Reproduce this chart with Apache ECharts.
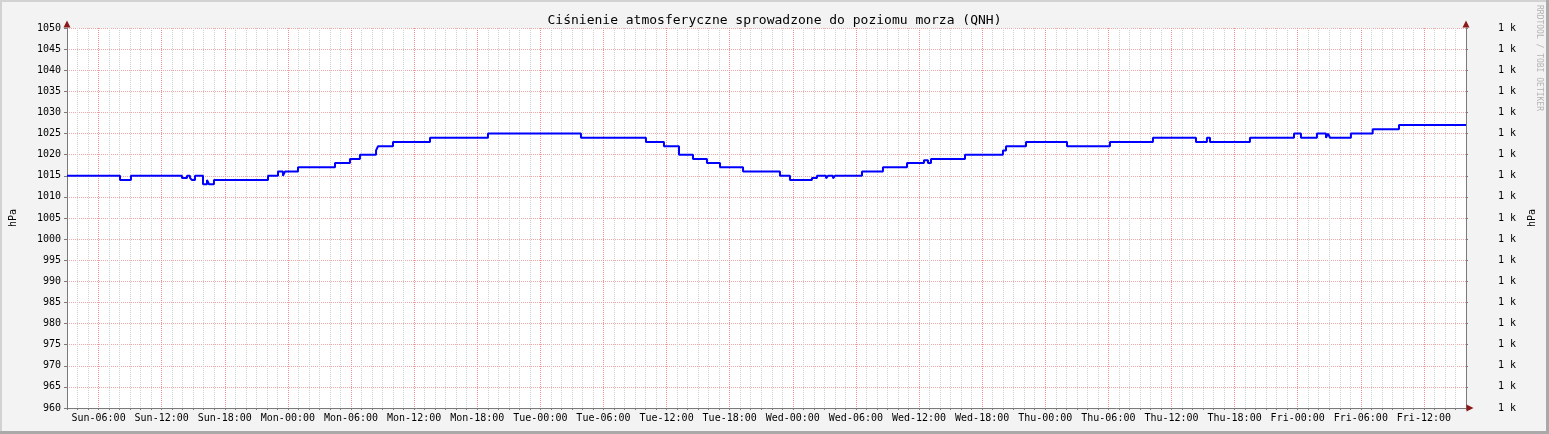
<!DOCTYPE html>
<html>
<head>
<meta charset="utf-8">
<script src="https://cdn.jsdelivr.net/npm/echarts@6/dist/echarts.min.js"></script>
<style>
  html, body { margin: 0; padding: 0; background: #f3f3f3; }
  #wrap { position: relative; width: 1549px; height: 434px; overflow: hidden; background: #f3f3f3; }
  #chart { position: absolute; left: 0; top: 0; width: 1549px; height: 434px; }
  .b { position: absolute; }
</style>
</head>
<body>
<div id="wrap">
  <div class="b" style="left:0;top:0;width:1549px;height:2px;background:#d2d2d2"></div>
  <div class="b" style="left:0;top:0;width:2px;height:434px;background:#d2d2d2"></div>
  <div class="b" style="left:0;top:431px;width:1549px;height:3px;background:#a9a9a9"></div>
  <div class="b" style="left:1546px;top:0;width:3px;height:434px;background:#a9a9a9"></div>
  <div id="chart"></div>
</div>
<script>
// ---- data (hours counted from Sunday 00:00) ----
const dayNames = ['Sun', 'Mon', 'Tue', 'Wed', 'Thu', 'Fri', 'Sat'];
const timeMin = 3;
const timeMax = 136;
const majorStep = 6;
const majorFirst = 6;
const majorLast = 132;
const hours = [3, 8.04, 9.08, 13.93, 14.41, 14.69, 14.88, 15.17, 15.93, 16.31, 16.50, 16.97,
  22.11, 23.06, 23.53, 23.72, 24.96, 28.48, 29.90, 30.85, 32.38, 32.57, 33.99, 37.51,
  43.02, 51.86, 58.04, 59.75, 61.18, 62.51, 63.84, 65.08, 67.27, 70.78, 71.73, 73.82,
  74.30, 75.16, 75.35, 75.82, 76.01, 78.58, 80.57, 82.86, 84.47, 84.85, 85.14, 88.37,
  91.98, 92.27, 94.17, 98.07, 102.15, 106.24, 110.33, 111.37, 111.66, 115.46, 119.65,
  120.31, 121.83, 122.69, 122.88, 123.07, 125.06, 127.13, 129.63, 136];
const qnh = [1015, 1014, 1015, 1014.5, 1015, 1014.5, 1014, 1015, 1013, 1014, 1013, 1014,
  1015, 1016, 1015, 1016, 1017, 1018, 1019, 1020, 1021, 1022, 1023, 1024,
  1025, 1024, 1023, 1022, 1020, 1019, 1018, 1017, 1016, 1015, 1014, 1014.5,
  1015, 1014.4, 1015, 1014.4, 1015, 1016, 1017, 1018, 1018.7, 1018, 1019, 1020,
  1021, 1022, 1023, 1022, 1023, 1024, 1023, 1024, 1023, 1024, 1025,
  1024, 1025, 1024, 1025, 1024, 1025, 1026, 1027, 1027];
const yMin = 960, yMax = 1050, yStep = 5;
const rightLabel = '1 k';
const titleText = 'Ciśnienie atmosferyczne sprowadzone do poziomu morza (QNH)';
const unitName = 'hPa';
const watermark = 'RRDTOOL / TOBI OETIKER';

const FONT = 'DejaVu Sans Mono';
const GRAY = '#d0d0d0', PINK = '#ee8e8e', HPINK = '#f0a8a8', AXIS = '#7a7a7a', ARROW = '#8a1a1a';
const pad2 = n => (n < 10 ? '0' : '') + n;

// layout of the plot area
const W = 1549, H = 434;
const PL = 67, PR = 83, PT = 28, PB = 26;
const plotW = W - PL - PR;
// second grid spanning exactly the major-grid time range, so its ticks start on a 6h mark
const pxPerHour = plotW / (timeMax - timeMin);
const majorLeft = PL + (majorFirst - timeMin) * pxPerHour;
const majorRight = PR + (timeMax - majorLast) * pxPerHour;

const arrowAxis = {
  show: true, onZero: false, symbol: ['none', 'triangle'], symbolSize: [7, 7], symbolOffset: [0, 4],
  lineStyle: { color: ARROW, width: 0 }
};

const chart = echarts.init(document.getElementById('chart'), null, { renderer: 'canvas' });
chart.setOption({
  animation: false,
  backgroundColor: 'transparent',
  title: {
    text: titleText, left: 'center', top: 9,
    textStyle: { fontFamily: FONT, fontSize: 13, fontWeight: 'normal', color: '#000' }
  },
  graphic: [{
    type: 'text', right: 6, top: 5, rotation: -Math.PI / 2,
    style: { text: watermark, fontFamily: FONT, fontSize: 8, fill: '#b4b4b4' }
  }],
  grid: [{
    left: PL, right: PR, top: PT, bottom: PB, containLabel: false, outerBoundsMode: 'none',
    show: true, backgroundColor: '#fff', borderWidth: 0
  }, {
    left: majorLeft, right: majorRight, top: PT, bottom: PB, containLabel: false, outerBoundsMode: 'none',
    show: false
  }],
  xAxis: [{
    gridIndex: 0, type: 'value', min: timeMin, max: timeMax, interval: 1,
    axisLine: { show: true, onZero: false, lineStyle: { color: AXIS, width: 1 } },
    axisTick: { show: true, length: 2, inside: false, lineStyle: { color: AXIS } },
    axisLabel: {
      margin: 5, fontFamily: FONT, fontSize: 10, color: '#000',
      formatter: v => {
        const r = Math.round(v);
        if (Math.abs(v - r) > 1e-6 || r % majorStep !== 0) return '';
        return dayNames[Math.floor(r / 24)] + '-' + pad2(r % 24) + ':00';
      }
    },
    splitLine: { show: true, lineStyle: { type: [1, 1], width: 1, color: GRAY } }
  }, {
    gridIndex: 0, type: 'value', min: timeMin, max: timeMax, position: 'bottom',
    axisLine: arrowAxis,
    axisTick: { show: false }, axisLabel: { show: false }, splitLine: { show: false }
  }, {
    gridIndex: 1, type: 'value', min: majorFirst, max: majorLast, interval: majorStep, position: 'bottom',
    axisLine: { show: false }, axisTick: { show: false }, axisLabel: { show: false },
    splitLine: { show: true, lineStyle: { type: [1, 1], width: 1, color: PINK } }
  }],
  yAxis: [{
    gridIndex: 0, type: 'value', min: yMin, max: yMax, interval: yStep, position: 'left',
    name: unitName, nameLocation: 'middle', nameGap: 49, nameRotate: 90,
    nameTextStyle: { fontFamily: FONT, fontSize: 10, color: '#000' },
    axisLine: { show: true, lineStyle: { color: AXIS, width: 1 } },
    axisTick: { show: true, length: 3, lineStyle: { color: AXIS } },
    axisLabel: { margin: 6, fontFamily: FONT, fontSize: 10, color: '#000', formatter: v => String(v) },
    splitLine: { show: true, lineStyle: { type: [1, 1], width: 1, color: HPINK } }
  }, {
    gridIndex: 0, type: 'value', min: yMin, max: yMax, interval: yStep, position: 'right',
    name: unitName, nameLocation: 'middle', nameGap: 51, nameRotate: 90,
    nameTextStyle: { fontFamily: FONT, fontSize: 10, color: '#000' },
    axisLine: { show: true, lineStyle: { color: AXIS, width: 1 } },
    axisTick: { show: true, length: 2, lineStyle: { color: AXIS } },
    axisLabel: { margin: 32, fontFamily: FONT, fontSize: 10, color: '#000', formatter: () => rightLabel },
    splitLine: { show: false }
  }, {
    gridIndex: 0, type: 'value', min: yMin, max: yMax, position: 'left',
    axisLine: arrowAxis,
    axisTick: { show: false }, axisLabel: { show: false }, splitLine: { show: false }
  }, {
    gridIndex: 0, type: 'value', min: yMin, max: yMax, position: 'right',
    axisLine: arrowAxis,
    axisTick: { show: false }, axisLabel: { show: false }, splitLine: { show: false }
  }, {
    gridIndex: 1, type: 'value', min: yMin, max: yMax, show: false
  }],
  series: [{
    type: 'line', step: 'end', xAxisIndex: 0, yAxisIndex: 0,
    data: hours.map((h, i) => [h, qnh[i]]),
    showSymbol: false, symbol: 'none',
    lineStyle: { color: '#0000ff', width: 2 },
    itemStyle: { color: '#0000ff' },
    z: 5
  }]
});
</script>
</body>
</html>
